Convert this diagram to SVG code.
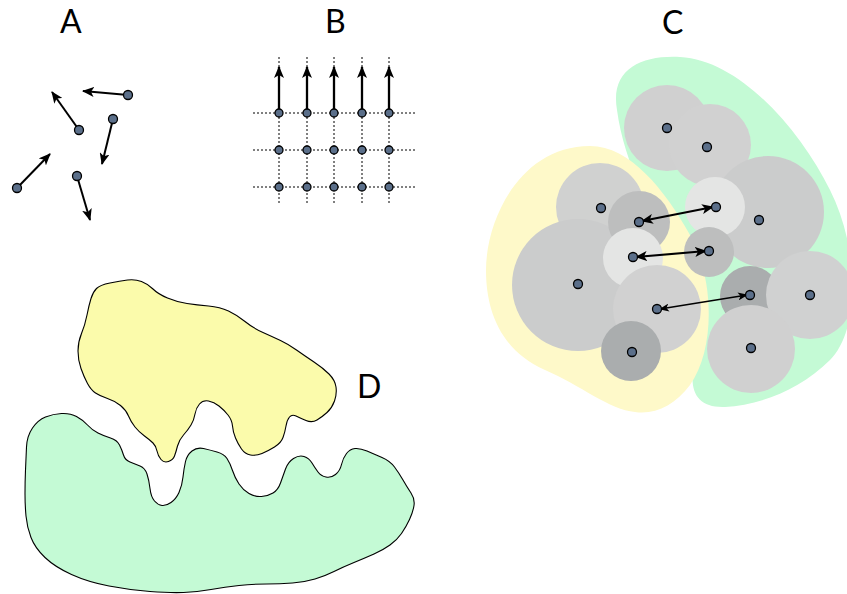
<svg xmlns="http://www.w3.org/2000/svg" width="847" height="594" viewBox="0 0 847 594">
<style>
.lbl{font-family:"Lato","DejaVu Sans",sans-serif;font-size:32px;fill:#000}
.dot{fill:#5b6f8a;stroke:#000;stroke-width:1.3}
.arr{stroke:#000;stroke-width:2;fill:none;marker-end:url(#ah)}
.grid{stroke:#000;stroke-width:1;stroke-dasharray:2,2;fill:none}
.dbl{stroke:#000;stroke-width:2.2;fill:none;marker-start:url(#ahs);marker-end:url(#ah)}
.dbl2{stroke:#000;stroke-width:1.3;fill:none;marker-start:url(#ahs2);marker-end:url(#ah2)}
.blob{stroke:#000;stroke-width:1.1}
</style>
<defs>
<marker id="ah" markerUnits="userSpaceOnUse" viewBox="0 0 12 10" refX="11" refY="5" markerWidth="12" markerHeight="10" orient="auto"><path d="M0,0 L12,5 L0,10 L3,5 Z" fill="#000"/></marker>
<marker id="ahs" markerUnits="userSpaceOnUse" viewBox="0 0 12 10" refX="1" refY="5" markerWidth="12" markerHeight="10" orient="auto"><path d="M12,0 L0,5 L12,10 L9,5 Z" fill="#000"/></marker>
<marker id="ah2" markerUnits="userSpaceOnUse" viewBox="0 0 10 8" refX="9" refY="4" markerWidth="10" markerHeight="8" orient="auto"><path d="M0,0 L10,4 L0,8 L2.5,4 Z" fill="#000"/></marker>
<marker id="ahs2" markerUnits="userSpaceOnUse" viewBox="0 0 10 8" refX="1" refY="4" markerWidth="10" markerHeight="8" orient="auto"><path d="M10,0 L0,4 L10,8 L7.5,4 Z" fill="#000"/></marker>
</defs>

<g id="labels">
<text class="lbl" x="60" y="33">A</text>
<text class="lbl" x="325" y="33">B</text>
<text class="lbl" x="662" y="34">C</text>
<text class="lbl" x="357" y="398">D</text>
</g>

<g id="panelA">
<g id="connectorsA">
<line class="arr" x1="128" y1="95" x2="83" y2="91"/>
<line class="arr" x1="79" y1="130" x2="52" y2="92"/>
<line class="arr" x1="113" y1="119" x2="102" y2="164"/>
<line class="arr" x1="17" y1="188" x2="50" y2="154"/>
<line class="arr" x1="77" y1="176" x2="90" y2="220"/>
</g>
<g id="dotsA">
<circle class="dot" cx="128" cy="95" r="4.5"/>
<circle class="dot" cx="79" cy="130" r="4.5"/>
<circle class="dot" cx="113" cy="119" r="4.5"/>
<circle class="dot" cx="17" cy="188" r="4.5"/>
<circle class="dot" cx="77" cy="176" r="4.5"/>
</g>
</g>

<g id="panelB">
<g id="gridB">
<line class="grid" x1="253" y1="113" x2="417" y2="113"/>
<line class="grid" x1="253" y1="150" x2="417" y2="150"/>
<line class="grid" x1="253" y1="187" x2="417" y2="187"/>
<line class="grid" x1="279" y1="57" x2="279" y2="205"/>
<line class="grid" x1="307" y1="57" x2="307" y2="205"/>
<line class="grid" x1="334" y1="57" x2="334" y2="205"/>
<line class="grid" x1="362" y1="57" x2="362" y2="205"/>
<line class="grid" x1="389" y1="57" x2="389" y2="205"/>
</g>
<g id="connectorsB">
<line class="arr" style="stroke-width:2.3" x1="279" y1="113" x2="279" y2="67"/>
<line class="arr" style="stroke-width:2.3" x1="307" y1="113" x2="307" y2="67"/>
<line class="arr" style="stroke-width:2.3" x1="334" y1="113" x2="334" y2="67"/>
<line class="arr" style="stroke-width:2.3" x1="362" y1="113" x2="362" y2="67"/>
<line class="arr" style="stroke-width:2.3" x1="389" y1="113" x2="389" y2="67"/>
</g>
<g id="dotsB">
<circle class="dot" cx="279" cy="113" r="4"/><circle class="dot" cx="307" cy="113" r="4"/><circle class="dot" cx="334" cy="113" r="4"/><circle class="dot" cx="362" cy="113" r="4"/><circle class="dot" cx="389" cy="113" r="4"/>
<circle class="dot" cx="279" cy="150" r="4"/><circle class="dot" cx="307" cy="150" r="4"/><circle class="dot" cx="334" cy="150" r="4"/><circle class="dot" cx="362" cy="150" r="4"/><circle class="dot" cx="389" cy="150" r="4"/>
<circle class="dot" cx="279" cy="187" r="4"/><circle class="dot" cx="307" cy="187" r="4"/><circle class="dot" cx="334" cy="187" r="4"/><circle class="dot" cx="362" cy="187" r="4"/><circle class="dot" cx="389" cy="187" r="4"/>
</g>
</g>

<g id="panelC">
<path id="greenRegion" fill="#c4fad5" d="M617,110 C610,70 640,55 680,57 C740,60 800,130 830,190 C860,250 860,330 830,360 C800,390 760,405 725,407 C700,408 690,395 693,370 C697,330 700,300 685,270 C660,230 625,170 617,110 Z"/>
<path id="yellowRegion" fill="#fef9c9" d="M590,146 C630,146 665,190 690,235 C715,280 715,350 690,385 C675,405 655,415 635,412 C610,410 580,385 545,370 C500,350 486,310 486,270 C486,220 520,146 590,146 Z"/>
<g id="circlesC">
<circle cx="667" cy="128" r="43" fill="#d0d0d0"/>
<circle cx="710" cy="145" r="41" fill="#d1d1d1"/>
<circle cx="768" cy="212" r="56" fill="#cbcccc"/>
<circle cx="715" cy="207" r="30" fill="#e4e5e4"/>
<circle cx="709" cy="252" r="25" fill="#bdbebe"/>
<circle cx="750" cy="296" r="30" fill="#aaadae"/>
<circle cx="810" cy="295" r="44" fill="#d0d1d1"/>
<circle cx="751" cy="349" r="44" fill="#d0d0d0"/>
<circle cx="600" cy="207" r="44" fill="#d0d1d0"/>
<circle cx="578" cy="285" r="66" fill="#cbcccc"/>
<circle cx="639" cy="222" r="31" fill="#bdbebe"/>
<circle cx="633" cy="258" r="30" fill="#e4e5e4"/>
<circle cx="657" cy="309" r="44" fill="#d1d1d1"/>
<circle cx="631" cy="351" r="30" fill="#aaadae"/>
</g>
<g id="connectorsC">
<line class="dbl" x1="642" y1="221" x2="713" y2="207"/>
<line class="dbl" x1="636" y1="257" x2="706" y2="251"/>
<line class="dbl2" x1="660" y1="309" x2="747" y2="295"/>
</g>
<g id="dotsC">
<circle class="dot" cx="667" cy="128" r="4.5"/>
<circle class="dot" cx="707" cy="147" r="4.5"/>
<circle class="dot" cx="759" cy="220" r="4.5"/>
<circle class="dot" cx="716" cy="207" r="4.5"/>
<circle class="dot" cx="709" cy="251" r="4.5"/>
<circle class="dot" cx="750" cy="295" r="4.5"/>
<circle class="dot" cx="810" cy="295" r="4.5"/>
<circle class="dot" cx="751" cy="348" r="4.5"/>
<circle class="dot" cx="601" cy="208" r="4.5"/>
<circle class="dot" cx="578" cy="284" r="4.5"/>
<circle class="dot" cx="639" cy="222" r="4.5"/>
<circle class="dot" cx="633" cy="257" r="4.5"/>
<circle class="dot" cx="657" cy="309" r="4.5"/>
<circle class="dot" cx="632" cy="352" r="4.5"/>
</g>
</g>

<g id="panelD">
<path id="yellowBlob" class="blob" fill="#fbfbab" d="M96.5,288.5 Q100,285 110,283 Q120,281 127.5,280 Q135,279 141.5,281.5 Q148,284 153,289 Q158,294 167.5,298 Q177,302 187,303.5 Q197,305 208.5,306 Q220,307 228.5,311 Q237,315 245,321.5 Q253,328 263,332.5 Q273,337 280.5,340.5 Q288,344 296.5,350 Q305,356 314,362 Q323,368 329,374 Q335,380 336,387 Q337,394 334.5,401 Q332,408 327,412.5 Q322,417 317,420 Q312,423 306,420.5 Q300,418 296,416 Q292,414 289.5,417 Q287,420 286,426 Q285,432 283,437.5 Q281,443 274.5,447 Q268,451 262,453.5 Q256,456 250.5,455 Q245,454 241.5,449 Q238,444 235.5,438 Q233,432 232.5,426 Q232,420 228,415 Q224,410 219,406 Q214,402 208.5,401 Q203,400 199.5,404 Q196,408 195,414 Q194,420 191,425 Q188,430 183.5,435 Q179,440 177.5,446 Q176,452 174.5,456 Q173,460 168.5,461.5 Q164,463 161,459.5 Q158,456 157,451 Q156,446 153,443 Q150,440 144.5,436 Q139,432 135,427 Q131,422 128.5,416 Q126,410 120.5,405.5 Q115,401 107.5,398.5 Q100,396 95.5,393 Q91,390 87.5,383.5 Q84,377 81,368.5 Q78,360 78,351 Q78,342 81.5,333.5 Q85,325 87,315 Q89,305 91,298.5 Q93,292 96.5,288.5 Z"/>
<path id="greenBlob" class="blob" fill="#c4fad5" d="M26.5,447 Q27,436 32.5,428 Q38,420 45.5,417 Q53,414 61.5,413.5 Q70,413 76.5,416.5 Q83,420 87.5,425 Q92,430 98,433 Q104,436 110.5,438 Q117,440 119.5,445 Q122,450 123.5,455 Q125,460 130,462 Q135,464 140,466 Q145,468 147,474 Q149,480 150,488.5 Q151,497 154.5,501 Q158,505 162,505.5 Q166,506 171,502.5 Q176,499 179,492.5 Q182,486 183,477 Q184,468 185.5,461.5 Q187,455 192,451 Q197,447 203.5,448.5 Q210,450 217,452 Q224,454 227,458.5 Q230,463 232.5,470.5 Q235,478 239,484 Q243,490 249,493.5 Q255,497 261.5,496.5 Q268,496 273,493 Q278,490 280.5,483 Q283,476 285.5,469 Q288,462 293.5,458.5 Q299,455 304,456.5 Q309,458 312,463 Q315,468 318,472 Q321,476 326,477 Q331,478 335.5,474.5 Q340,471 341.5,464.5 Q343,458 346.5,453.5 Q350,449 355,448.5 Q360,448 367,451 Q374,454 382,457.5 Q390,461 394.5,467 Q399,473 403,480 Q407,487 411,493 Q415,499 414,505.5 Q413,512 409.5,519.5 Q406,527 401.5,533.5 Q397,540 390,545 Q383,550 374,554 Q365,558 354,562.5 Q343,567 334,571.5 Q325,576 315,579 Q305,582 292.5,583 Q280,584 266.5,584 Q253,584 239,585.5 Q225,587 211,589.5 Q197,592 183.5,592.5 Q170,593 150,591.5 Q130,590 109,586 Q88,582 71.5,574.5 Q55,567 45,557.5 Q35,548 31,537.5 Q27,527 26,516 Q25,505 25,493.5 Q25,482 25.5,470 Q26,458 26.5,447 Z"/>
</g>
</svg>
